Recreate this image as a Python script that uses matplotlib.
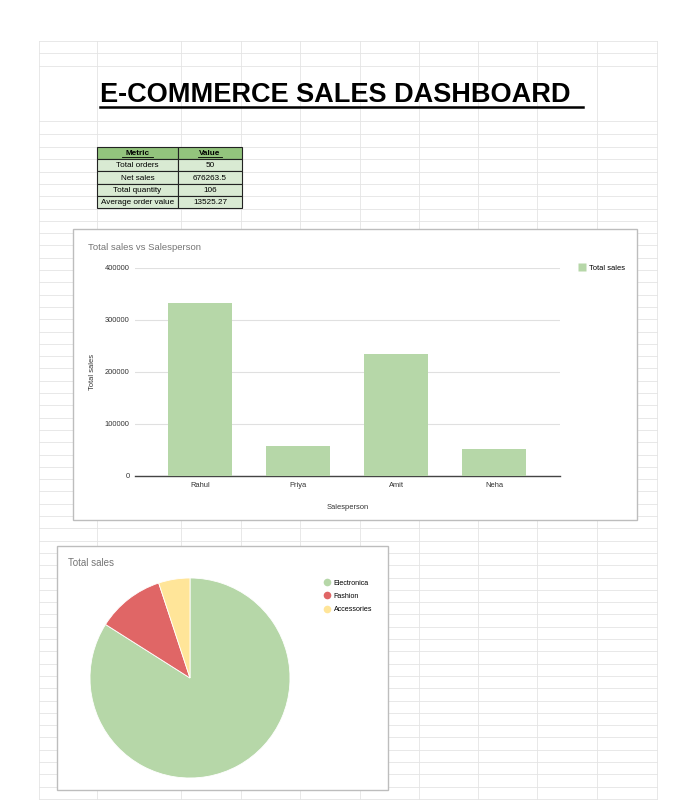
import matplotlib
matplotlib.use("Agg")
import matplotlib.pyplot as plt
from matplotlib.patches import Rectangle
from matplotlib.lines import Line2D

plt.rcParams['font.family'] = ['Liberation Sans', 'DejaVu Sans']

W, H = 680, 806

# data
title = "E-COMMERCE SALES DASHBOARD"
metric_names = ["Total orders", "Net sales", "Total quantity", "Average order value"]
metric_values = ["50", "676263.5", "106", "13525.27"]

salespeople = ["Rahul", "Priya", "Amit", "Neha"]
sales_by_person = [332000, 57000, 235000, 52263.5]

categories = ["Electronica", "Fashion", "Accessories"]
sales_by_category = [568000, 74000, 34263.5]
cat_colors = ["#b6d7a8", "#e06666", "#ffe599"]

bar_color = "#b6d7a8"


def px(x0, y0, x1, y1):
    # pixel box -> figure fraction
    return [x0 / W, 1 - y1 / H, (x1 - x0) / W, (y1 - y0) / H]


fig = plt.figure(figsize=(W / 100, H / 100), dpi=100)
fig.patch.set_facecolor("white")

# sheet background
bg = fig.add_axes([0, 0, 1, 1])
bg.set_xlim(0, W)
bg.set_ylim(H, 0)
bg.axis("off")

cols = [39, 97, 181, 241, 300, 360, 419, 478, 537, 597, 657]
rows = [41, 53, 66, 121, 134] + [147 + 12.3 * i for i in range(54)]
rows = [r for r in rows if r <= 800]
for c in cols:
    bg.plot([c, c], [41, rows[-1]], color="#e4e4e4", lw=0.6, zorder=1)
for r in rows:
    bg.plot([39, 657], [r, r], color="#e4e4e4", lw=0.6, zorder=1)

# title
bg.text(100, 94.5, title, fontsize=19.5, fontweight="bold", ha="left", va="center", zorder=3)
bg.plot([100, 583], [106.5, 106.5], color="black", lw=1.8, zorder=3)

# metrics table
tx0, tx1, tx2 = 97, 178, 242
ty0, rh = 147, 12.2
table_rows = [("Metric", "Value")] + list(zip(metric_names, metric_values))
for i, (m, v) in enumerate(table_rows):
    y = ty0 + i * rh
    fc = "#93c47d" if i == 0 else "#d9ead3"
    bg.add_patch(Rectangle((tx0, y), tx1 - tx0, rh, facecolor=fc, edgecolor="#222222", lw=0.8, zorder=3))
    bg.add_patch(Rectangle((tx1, y), tx2 - tx1, rh, facecolor=fc, edgecolor="#222222", lw=0.8, zorder=3))
    wt = "bold" if i == 0 else "normal"
    bg.text((tx0 + tx1) / 2, y + rh / 2 + 0.5, m, fontsize=5.9, fontweight=wt, ha="center", va="center", zorder=4)
    bg.text((tx1 + tx2) / 2, y + rh / 2 + 0.5, v, fontsize=5.9, fontweight=wt, ha="center", va="center", zorder=4)
    if i == 0:
        bg.plot([122, 153], [y + rh - 2.2, y + rh - 2.2], color="black", lw=0.6, zorder=4)
        bg.plot([198, 222], [y + rh - 2.2, y + rh - 2.2], color="black", lw=0.6, zorder=4)

# chart boxes
bg.add_patch(Rectangle((73, 229), 564, 291, facecolor="white", edgecolor="#bdbdbd", lw=1, zorder=5))
bg.add_patch(Rectangle((57, 546), 331, 244, facecolor="white", edgecolor="#bdbdbd", lw=1, zorder=5))
bg.text(88, 248, "Total sales vs Salesperson", fontsize=6.8, color="#757575", ha="left", va="center", zorder=6)
bg.text(68, 563, "Total sales", fontsize=7, color="#757575", ha="left", va="center", zorder=6)

# bar chart
ax = fig.add_axes(px(135, 268, 560, 476))
ax.set_zorder(10)
ax.patch.set_alpha(0)
xs = range(len(salespeople))
ax.bar(xs, sales_by_person, width=0.65, color=bar_color, zorder=3, label="Total sales")
ax.set_xlim(-0.663, 3.673)
ax.set_ylim(0, 400000)
ax.set_yticks([0, 100000, 200000, 300000, 400000])
ax.set_xticks(list(xs))
ax.set_xticklabels(salespeople)
ax.tick_params(length=0, labelsize=5.4, labelcolor="#333333", pad=4)
ax.grid(axis="y", color="#e0e0e0", lw=0.8, zorder=0)
for s in ["top", "right", "left"]:
    ax.spines[s].set_visible(False)
ax.spines["bottom"].set_color("#444444")
ax.spines["bottom"].set_linewidth(1)
ax.set_xlabel("Salesperson", fontsize=5.4, color="#333333", labelpad=11)
ax.set_ylabel("Total sales", fontsize=5.4, color="#333333", labelpad=6.5)
ax.legend(handles=[Line2D([], [], marker="s", color="none", markerfacecolor=bar_color,
                          markeredgecolor="none", markersize=5.5)],
          labels=["Total sales"], loc="center left", bbox_to_anchor=(574 / W, 1 - 268 / H),
          bbox_transform=fig.transFigure, frameon=False, fontsize=5.4,
          handletextpad=0.5, borderpad=0, handlelength=1)

# pie chart
pa = fig.add_axes(px(89, 577, 291, 779))
pa.set_zorder(10)
pa.pie(sales_by_category, colors=cat_colors, startangle=90, counterclock=False,
       wedgeprops=dict(edgecolor="white", linewidth=0.6))
pa.set_xlim(-1.01, 1.01)
pa.set_ylim(-1.01, 1.01)
pa.set_aspect("equal")

handles = [Line2D([], [], marker="o", color="none", markerfacecolor=c, markeredgecolor="none",
                  markersize=5.5) for c in cat_colors]
pa.legend(handles=handles, labels=categories, loc="upper left",
          bbox_to_anchor=(319 / W, 1 - 576 / H), bbox_transform=fig.transFigure,
          frameon=False, fontsize=5.1, handletextpad=0.4, borderpad=0,
          handlelength=1.2, labelspacing=0.9)

fig.savefig("out.png", dpi=100, facecolor="white")
